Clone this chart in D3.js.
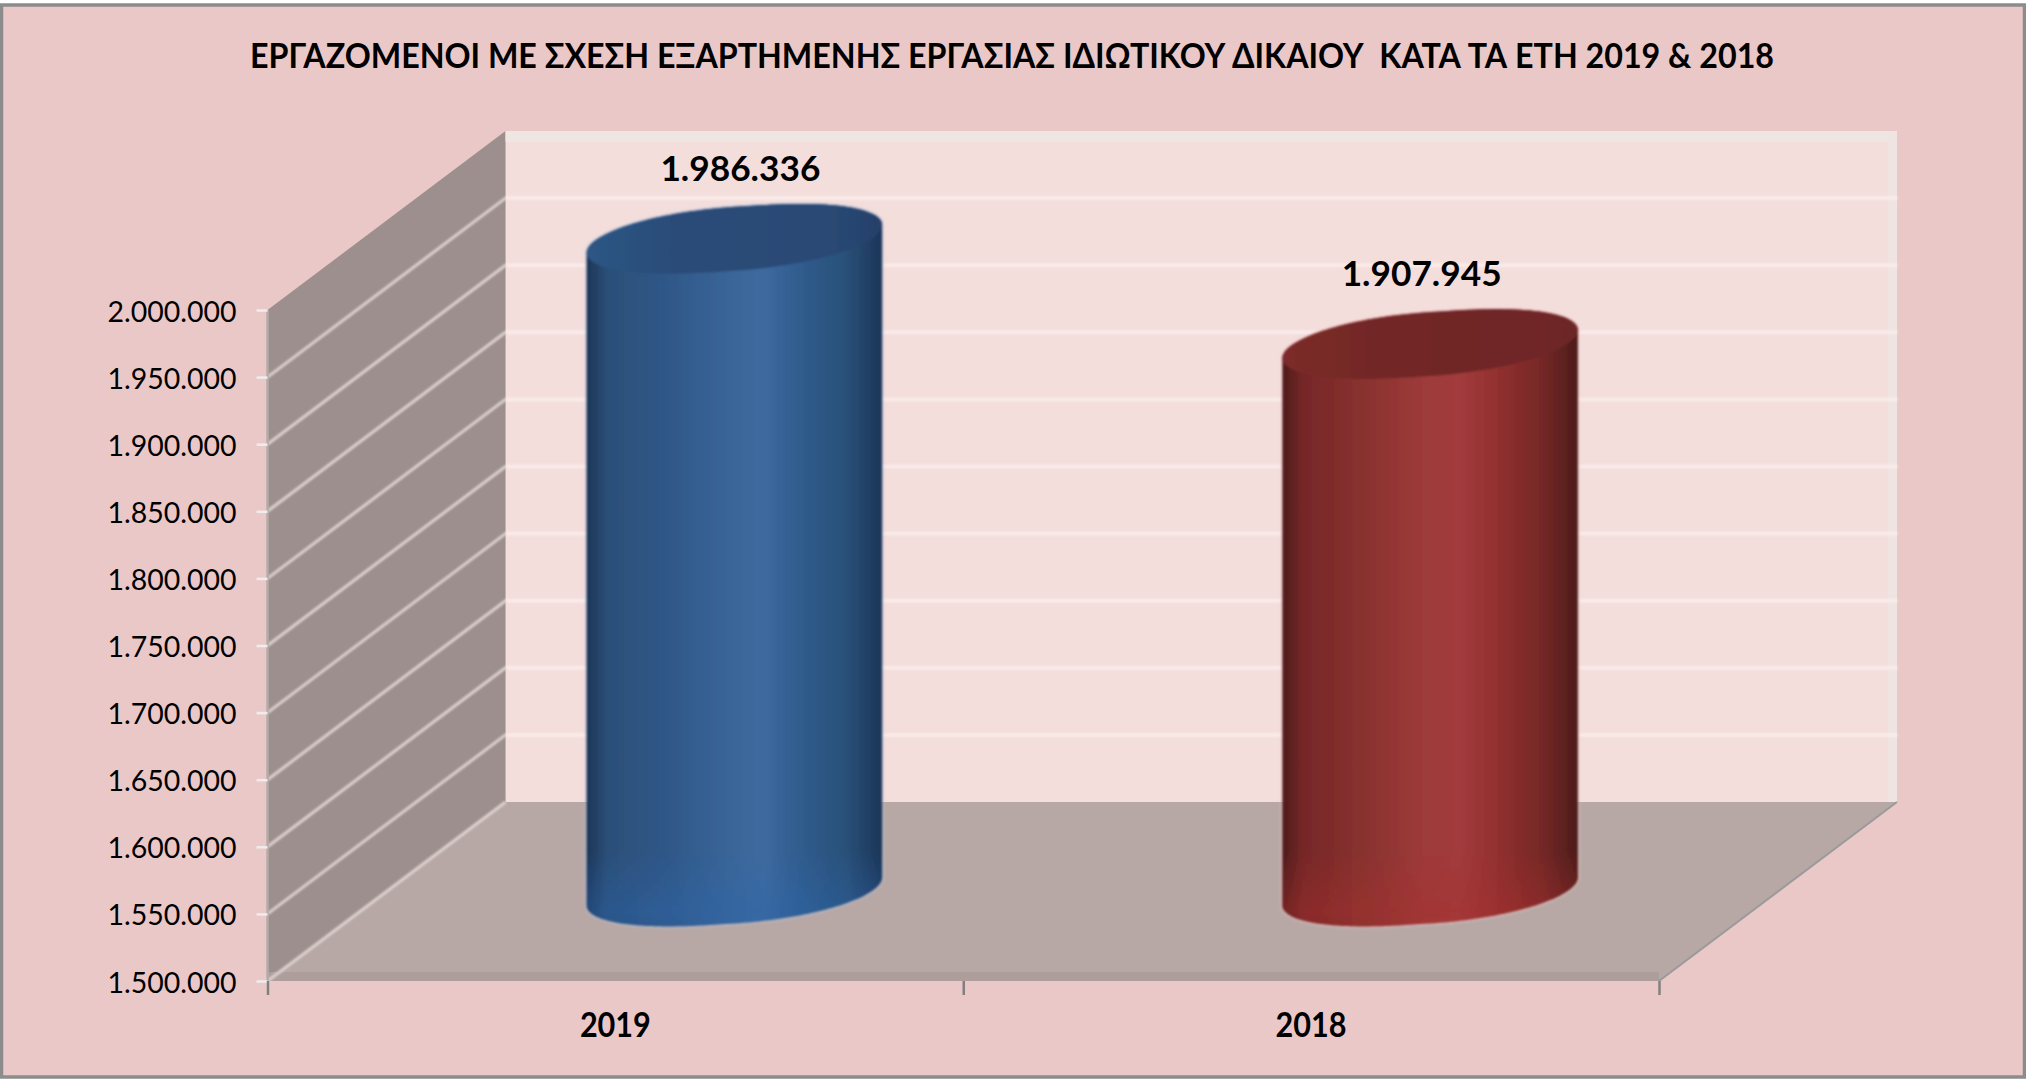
<!DOCTYPE html>
<html>
<head>
<meta charset="utf-8">
<script src="https://cdn.jsdelivr.net/npm/d3@7"></script>
<style>
  html, body { margin: 0; padding: 0; background: #fff; }
  svg { display: block; }
  text { font-family: Lato, "Noto Sans", sans-serif; fill: #000; }
</style>
</head>
<body>
<div id="chart"></div>
<script>
const title = 'ΕΡΓΑΖΟΜΕΝΟΙ ΜΕ ΣΧΕΣΗ ΕΞΑΡΤΗΜΕΝΗΣ ΕΡΓΑΣΙΑΣ ΙΔΙΩΤΙΚΟΥ ΔΙΚΑΙΟΥ  ΚΑΤΑ ΤΑ ΕΤΗ 2019 & 2018'
const categories = ['2019', '2018']
const values = [1986336, 1907945]
const yTicks = [1500000, 1550000, 1600000, 1650000, 1700000, 1750000, 1800000, 1850000, 1900000, 1950000, 2000000]
const bodyOffsets = [0, 0.07, 0.3, 0.48, 0.6, 0.72, 0.88, 1]
const capOffsets = [0, 0.3, 0.8, 1]
const barColors = [
  { cap: ['#2d5685', '#2b4c78', '#2a4a75', '#25406a'], body: ['#1c3557', '#2c4f78', '#30598a', '#3a6598', '#3e6a9f', '#305c8e', '#2a5078', '#1b3558'], base: '#2c66ac', halo: '#b9c3d8' },
  { cap: ['#7c2b29', '#732827', '#702727', '#6d2525'], body: ['#4e1c1a', '#762728', '#8b3330', '#9e3a3a', '#a23b3c', '#933030', '#752826', '#4d1c1a'], base: '#a8302f', halo: '#f2c4c4' }
]
const labelShift = [6, -8.5]

// sizes
const width = 2026
const height = 1080
const plot = { left: 267.5, right: 1659, top: 310, bottom: 981 }
const depth = { x: 238, y: 179 }
const barWidth = 295.5
const ellipse = { b: 32, tilt: 14, round: 0.88 }

const svg = d3
  .select('#chart')
  .append('svg')
  .attr('width', width)
  .attr('height', height)

const y = d3.scaleLinear().domain([1500000, 2000000]).range([plot.bottom, plot.top])
const x = d3.scaleBand().domain(categories).range([plot.left, plot.right])
const fmt = d3.formatLocale({ decimal: ',', thousands: '.', grouping: [3], currency: ['', ''] }).format(',d')

const backLeft = plot.left + depth.x
const backRight = plot.right + depth.x
const topY = y(2000000)
const baseY = y(1500000)

// gradients and soft edges, the source picture is a blurry upscale
const defs = svg.append('defs')
const soft = (id, dev) => defs.append('filter').attr('id', id)
  .attr('filterUnits', 'userSpaceOnUse').attr('x', 0).attr('y', 0).attr('width', width).attr('height', height)
  .append('feGaussianBlur').attr('stdDeviation', dev)
soft('soft', 0.8)
soft('softer', 1.6)

barColors.forEach((c, i) => {
  defs.append('linearGradient').attr('id', `body${i}`)
    .selectAll('stop').data(c.body).enter().append('stop')
    .attr('offset', (d, j) => bodyOffsets[j])
    .attr('stop-color', d => d)
  defs.append('linearGradient').attr('id', `cap${i}`)
    .selectAll('stop').data(c.cap).enter().append('stop')
    .attr('offset', (d, j) => capOffsets[j])
    .attr('stop-color', d => d)
  const base = defs.append('linearGradient').attr('id', `base${i}`)
    .attr('x1', 0).attr('x2', 0).attr('y1', 0).attr('y2', 1)
  base.append('stop').attr('offset', 0).attr('stop-color', c.base).attr('stop-opacity', 0)
  base.append('stop').attr('offset', 0.8).attr('stop-color', c.base).attr('stop-opacity', 0.4)
  base.append('stop').attr('offset', 1).attr('stop-color', c.base).attr('stop-opacity', 0.25)
})

// frame
svg.append('rect')
  .attr('x', 1.5).attr('y', 5)
  .attr('width', width - 3).attr('height', height - 8)
  .attr('fill', '#ebc8c8')
  .attr('stroke', '#8c8c8c')
  .attr('stroke-width', 3.5)

svg.append('text')
  .attr('x', 1012).attr('y', 68)
  .attr('text-anchor', 'middle')
  .attr('font-size', 35)
  .attr('font-weight', 700)
  .attr('textLength', 1524)
  .attr('lengthAdjust', 'spacingAndGlyphs')
  .style('white-space', 'pre')
  .text(title)

// walls
const poly = pts => 'M' + pts.map(p => p.join(',')).join('L') + 'Z'

svg.append('path').attr('fill', '#f3dedc')
  .attr('d', poly([[backLeft, topY - depth.y], [backRight, topY - depth.y], [backRight, baseY - depth.y], [backLeft, baseY - depth.y]]))
svg.append('path').attr('fill', '#9d8f8d')
  .attr('d', poly([[plot.left, topY], [backLeft, topY - depth.y], [backLeft, baseY - depth.y], [plot.left, baseY]]))
svg.append('path').attr('fill', '#b7a8a6')
  .attr('d', poly([[plot.left, baseY], [backLeft, baseY - depth.y], [backRight, baseY - depth.y], [plot.right, baseY]]))

// darker strip on the front of the floor, light strip on the wall ends
svg.append('rect').attr('x', plot.left).attr('y', baseY - 9).attr('width', plot.right - plot.left).attr('height', 9).attr('fill', '#ad9e9c')
svg.append('rect').attr('x', backLeft).attr('y', topY - depth.y).attr('width', backRight - backLeft).attr('height', 11).attr('fill', '#efe6e2')
svg.append('rect').attr('x', backRight - 9).attr('y', topY - depth.y).attr('width', 9).attr('height', baseY - topY).attr('fill', '#f0e4e2')

// gridlines on back wall and side wall
const grid = svg.append('g').attr('filter', 'url(#soft)')
grid.selectAll('line.back').data(yTicks.slice(1, -1)).enter().append('line')
  .attr('class', 'back')
  .attr('x1', backLeft).attr('x2', backRight)
  .attr('y1', d => y(d) - depth.y).attr('y2', d => y(d) - depth.y)
  .attr('stroke', '#faecea').attr('stroke-width', 3.5)
grid.selectAll('line.side').data(yTicks.slice(0, -1)).enter().append('line')
  .attr('class', 'side')
  .attr('x1', plot.left).attr('x2', backLeft)
  .attr('y1', d => y(d)).attr('y2', d => y(d) - depth.y)
  .attr('stroke', '#dcd1cf').attr('stroke-width', 3)
svg.append('line')
  .attr('x1', plot.left).attr('x2', plot.left)
  .attr('y1', topY).attr('y2', baseY)
  .attr('stroke', '#b5acaa').attr('stroke-width', 2.5)
svg.append('line')
  .attr('x1', plot.right).attr('y1', baseY)
  .attr('x2', backRight).attr('y2', baseY - depth.y)
  .attr('stroke', '#9a9a9a').attr('stroke-width', 2)

// y axis
const yAxis = svg.append('g')
  .attr('transform', `translate(${plot.left},0)`)
  .call(d3.axisLeft(y).tickValues(yTicks).tickSize(11).tickPadding(20).tickFormat(fmt))
yAxis.select('.domain').remove()
yAxis.selectAll('line').attr('stroke', '#ededed').attr('stroke-width', 2.5)
yAxis.selectAll('text').attr('font-size', 29).attr('font-family', 'Lato').attr('dy', '0.38em')
  .attr('textLength', 129).attr('lengthAdjust', 'spacingAndGlyphs')

// x axis, ticks sit on the band edges
const edges = d3.scaleLinear().domain([0, 2]).range([plot.left, plot.right])
const xTicks = svg.append('g')
  .attr('transform', `translate(0,${plot.bottom})`)
  .call(d3.axisBottom(edges).tickValues([0, 1, 2]).tickSize(14).tickFormat(''))
xTicks.select('.domain').remove()
xTicks.selectAll('line').attr('stroke', '#808080').attr('stroke-width', 2.5)

const xAxis = svg.append('g')
  .attr('transform', `translate(0,${plot.bottom})`)
  .call(d3.axisBottom(x).tickSize(0).tickPadding(32))
xAxis.select('.domain').remove()
xAxis.selectAll('text').attr('font-size', 34).attr('font-weight', 700).attr('font-family', 'Lato')
  .attr('textLength', 71).attr('lengthAdjust', 'spacingAndGlyphs')

// cylinders stand at half the depth of the plot
const rx = barWidth / 2
const spow = v => Math.sign(v) * Math.pow(Math.abs(v), ellipse.round)
const pt = (cx, cy, t) => [
  cx + rx * spow(Math.cos(t)),
  cy + ellipse.b * Math.sin(t) - ellipse.tilt * Math.cos(t)
]
const arc = (cx, cy, from, to) => d3.range(0, 145).map(i => pt(cx, cy, from + (to - from) * i / 144))
const line = d3.line()

const bars = svg.append('g').selectAll('g').data(categories).enter().append('g')
bars.each(function (cat, i) {
  const g = d3.select(this)
  const shape = g.append('g').attr('filter', 'url(#soft)')
  const cx = x(cat) + x.bandwidth() / 2 + depth.x / 2
  const cyTop = y(values[i]) - depth.y / 2
  const cyBase = baseY - depth.y / 2
  // outline: along the front of the base, then back over the top edge
  const bottomArc = arc(cx, cyBase, 0, Math.PI)
  const outline = line([...bottomArc, ...arc(cx, cyTop, Math.PI, 2 * Math.PI)]) + 'Z'
  g.insert('path', 'g').attr('d', outline)
    .attr('fill', 'none').attr('stroke', barColors[i].halo).attr('stroke-width', 3)
    .attr('opacity', 0.55).attr('filter', 'url(#softer)')
  shape.append('path').attr('d', outline).attr('fill', `url(#body${i})`)
  // brighter lower end, fades out upward
  const fadeTop = cyBase - 40
  shape.append('path')
    .attr('d', line([[cx + rx, fadeTop], ...bottomArc, [cx - rx, fadeTop]]) + 'Z')
    .attr('fill', `url(#base${i})`)
  shape.append('path').attr('d', line(arc(cx, cyTop, 0, 2 * Math.PI)) + 'Z').attr('fill', `url(#cap${i})`)
  g.append('text')
    .attr('x', cx + labelShift[i]).attr('y', cyTop - 58)
    .attr('text-anchor', 'middle')
    .attr('font-size', 35)
    .attr('font-weight', 700)
    .attr('textLength', 160)
    .attr('lengthAdjust', 'spacingAndGlyphs')
    .text(fmt(values[i]))
})
</script>
</body>
</html>
